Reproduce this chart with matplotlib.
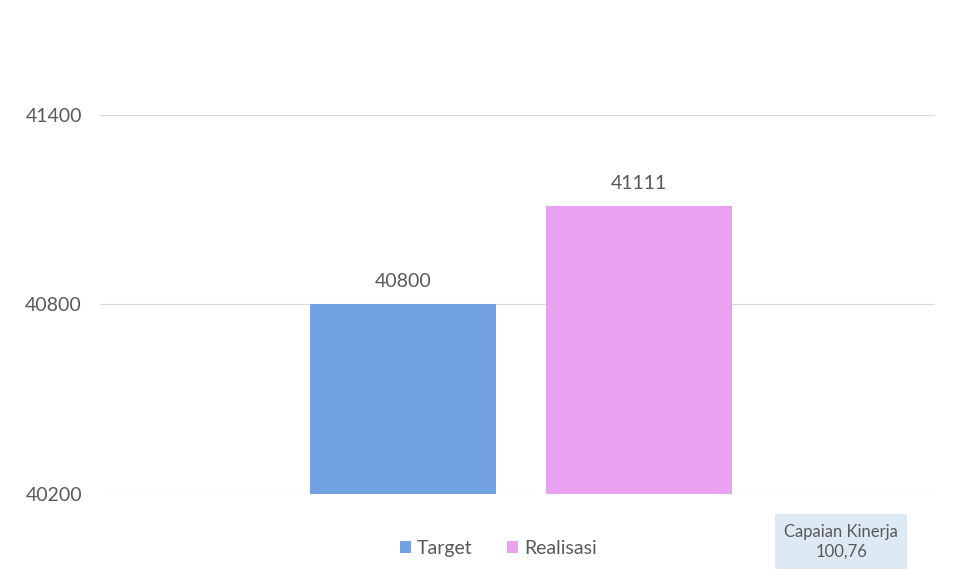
import matplotlib.pyplot as plt

# Data
series = ['Target', 'Realisasi']
values = [40800, 41111]
colors = ['#72a2e2', '#e9a2ef']
yticks = [40200, 40800, 41400]
capaian = '100,76'

plt.rcParams['font.family'] = ['Lato', 'DejaVu Sans']
txt = '#595959'

fig = plt.figure(figsize=(9.67, 5.84), dpi=100)
ax = fig.add_axes([0.1034, 0.154, 0.8635, 0.812])

xs = range(len(values))
bars = ax.bar(xs, values, width=0.79, color=colors, label=series, zorder=2,
              bottom=0)
for x, v in zip(xs, values):
    ax.text(x, v + 45, str(v), ha='center', va='bottom', fontsize=14, color=txt)

ax.set_ylim(40200, 41700)
ax.set_xlim(-1.284, 2.254)
ax.set_yticks(yticks)
ax.set_yticklabels([str(t) for t in yticks], fontsize=14, color=txt)
ax.set_xticks([])
ax.tick_params(axis='y', length=0, pad=13)
ax.grid(axis='y', color='#d9d9d9', linewidth=0.8, zorder=0)
for s in ax.spines.values():
    s.set_visible(False)

ax.legend(handles=bars, labels=series, loc='center', bbox_to_anchor=(0.477, -0.115),
          ncol=2, frameon=False, fontsize=14, labelcolor=txt,
          handlelength=0.55, handleheight=0.55, handletextpad=0.3, columnspacing=1.8)

fig.text(0.870, 0.0728, 'Capaian Kinerja\n' + capaian, ha='center', va='center',
         fontsize=12, color=txt, linespacing=1.3,
         bbox=dict(boxstyle='square,pad=0.55', facecolor='#dde9f5', edgecolor='none'))

fig.savefig('out.png', dpi=100)
